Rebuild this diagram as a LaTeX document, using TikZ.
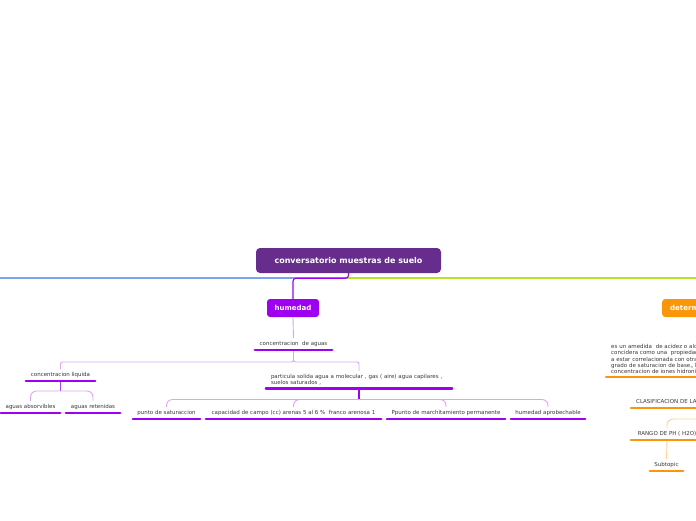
\documentclass[tikz,border=0pt]{standalone}
\usepackage{fontspec}
\setmainfont{DejaVu Sans}
\usepackage{xcolor}
\usetikzlibrary{calc, positioning}

\definecolor{rootviolet}{RGB}{102,45,140}
\definecolor{humviolet}{RGB}{158,0,240}
\definecolor{paleviolet}{RGB}{218,165,245}
\definecolor{midviolet}{RGB}{175,70,235}
\definecolor{westblue}{RGB}{120,165,240}
\definecolor{eastgreen}{RGB}{185,225,40}
\definecolor{phorange}{RGB}{250,150,10}
\definecolor{paleorange}{RGB}{252,210,150}
\definecolor{txtgray}{RGB}{55,55,55}

\tikzset{
  rootbox/.style={fill=rootviolet, rounded corners=4pt, text=white,
    font=\fontsize{8}{9}\selectfont\bfseries, minimum width=185pt, minimum height=25pt},
  mainbox/.style={fill=#1, rounded corners=3pt, text=white,
    font=\fontsize{7}{8}\selectfont\bfseries, minimum height=18pt},
  topic/.style={anchor=south, text=txtgray, font=\fontsize{5.5}{6.3}\selectfont,
    inner xsep=0pt, inner ysep=3pt, text height=4pt, text depth=1.5pt, minimum width=#1},
  uline/.style={line width=2.4pt, line cap=round, draw=#1},
  twig/.style={line width=0.9pt, draw=#1, rounded corners=6pt},
  trunk/.style={line width=1.4pt, draw=#1}
}

\begin{document}
\begin{tikzpicture}[x=1pt, y=-1pt]
    \useasboundingbox (0,0) rectangle (696,520);

    % rama central
    \node[rootbox] (root) at (348.5,260.5) {conversatorio muestras de suelo};
    \coordinate (westend) at (0,278);
    \coordinate (eastend) at (696,278);
    \draw[trunk=westblue] (root.south) |- (westend);
    \draw[trunk=eastgreen] (root.south) |- (eastend);

    % humedad
    \node[mainbox=humviolet, minimum width=52pt] (hum) at (293,308) {humedad};
    \draw[trunk=humviolet, line width=1.1pt, rounded corners=3pt] (root.south) -- ++(0,5) -| (hum.north);

    \node[topic=77pt] (aguas) at (293.5,350) {concentracion\ \ de aguas};
    \node[topic=69pt] (liq) at (60.5,381) {concentracion liquida};
    \node[topic=186pt, text width=176pt, align=left, inner xsep=5pt, text height=, text depth=]
        (part) at (359,388.5) {particula solida agua a molecular , gas ( aire) agua capilares ,\\suelos saturados ,};
    \node[topic=59pt] (abs) at (30.5,413) {aguas absorvibles};
    \node[topic=54pt] (ret) at (93,413) {aguas retenidas};
    \node[topic=67pt] (punto) at (166.5,419) {punto de saturaccion};
    \node[topic=175pt] (campo) at (293.5,419) {capacidad de campo (cc) arenas 5 al 6 \%\ \ franco arenosa 1};
    \node[topic=118pt] (marchi) at (446,419) {Ppunto de marchitamiento permanente};
    \node[topic=74pt] (aprob) at (548,419) {humedad aprobechable};

    \draw[twig=paleviolet] (hum.south) -- (aguas.north);
    \draw[twig=paleviolet, rounded corners=2pt] (aguas.south) -- ++(0,12) -| (liq.north);
    \draw[twig=paleviolet, rounded corners=2pt] (aguas.south) -- ++(0,12) -| (part.north);
    \draw[trunk=midviolet] (liq.south) -- ++(0,10);
    \foreach \kid in {abs,ret}
        \draw[twig=paleviolet] (liq.south) ++(0,10) -| (\kid.north);
    \draw[trunk=humviolet] (part.south) -- ++(0,11);
    \foreach \kid in {punto,campo,marchi,aprob}
        \draw[twig=paleviolet] (part.south) ++(0,11) -| (\kid.north);

    \foreach \n in {aguas,liq,part,abs,ret,punto,campo,marchi,aprob}
        \draw[uline=humviolet] (\n.south west) -- (\n.south east);

    % determinacion (rama naranja)
    \node[mainbox=phorange, anchor=west, text width=74pt, align=left, inner xsep=8pt]
        (det) at (662,308) {determinacion};
    \node[topic=150pt, text width=140pt, align=left, inner xsep=5pt, anchor=south west,
        font=\fontsize{5.5}{6.3}\selectfont, text height=, text depth=]
        (def) at (606,377) {es un amedida\ \ de acidez o alcalinidad\\concidera como una\ \ propiedad\\a estar correlacionada con otras\\grado de saturacion de base,, la\\concentracion de iones hidronio};
    \node[topic=100pt, anchor=south west, inner xsep=5pt, align=left, text width=95pt]
        (clasif) at (631,408) {CLASIFICACION DE LA ACIDEZ};
    \node[topic=72pt] (rango) at (667,440) {RANGO DE PH ( H2O)};
    \node[topic=33pt] (sub) at (666.5,471) {Subtopic};
    \coordinate (rangofork) at (720,419);

    \draw[twig=paleorange] (rangofork) -| (rango.north);
    \draw[twig=paleorange] (rango.south) -- (sub.north);

    \foreach \n in {def,clasif,rango,sub}
        \draw[uline=phorange] (\n.south west) -- (\n.south east);

\end{tikzpicture}
\end{document}
